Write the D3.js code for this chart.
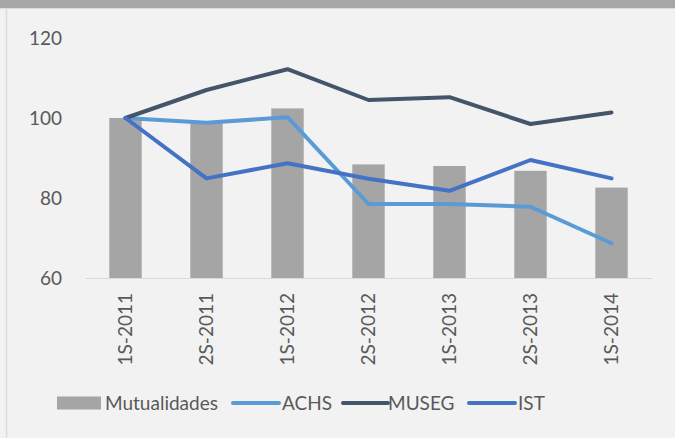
<!DOCTYPE html>
<html>
<head>
<meta charset="utf-8">
<script src="https://cdn.jsdelivr.net/npm/d3@7"></script>
<style>
  html, body { margin: 0; padding: 0; background: #f2f2f2; }
  svg { display: block; }
  text { font-family: Lato, "Open Sans", sans-serif; fill: #595959; }
</style>
</head>
<body>
<svg id="chart" width="675" height="438"></svg>
<script>
const categories = ["1S-2011", "2S-2011", "1S-2012", "2S-2012", "1S-2013", "2S-2013", "1S-2014"];
const mutualidades = [100, 98.7, 102.4, 88.4, 88.0, 86.8, 82.6];
const achs  = [100, 98.8, 100.2, 78.5, 78.5, 77.8, 68.7];
const museg = [100, 107.0, 112.2, 104.5, 105.2, 98.5, 101.4];
const ist   = [100, 84.9, 88.7, 84.8, 81.8, 89.5, 84.9];
const yTicks = [60, 80, 100, 120];

const lineSeries = [
  { name: "ACHS", values: achs, color: "#5b9bd5" },
  { name: "MUSEG", values: museg, color: "#44546a" },
  { name: "IST", values: ist, color: "#4472c4" }
];

const svg = d3.select("#chart");
const W = 675, H = 438;
const FS = 19;

// background panel
svg.append("rect").attr("x", 0).attr("y", 0).attr("width", W).attr("height", H).attr("fill", "#f2f2f2");
svg.append("rect").attr("x", 0).attr("y", 0).attr("width", W).attr("height", 8).attr("fill", "#a6a6a6");
svg.append("line").attr("x1", 0).attr("x2", W).attr("y1", 8.5).attr("y2", 8.5).attr("stroke", "#dcdcdc");
svg.append("line").attr("x1", 6.5).attr("x2", 6.5).attr("y1", 9).attr("y2", H).attr("stroke", "#dcdcdc").attr("stroke-width", 1.5);

const x = d3.scaleBand().domain(categories).range([85, 652]).paddingInner(0).paddingOuter(0);
const y = d3.scaleLinear().domain([60, 120]).range([278, 38]);

// y axis labels
const yAxis = d3.axisLeft(y).tickValues(yTicks).tickSize(0).tickPadding(0);
const gy = svg.append("g").attr("transform", "translate(62,0)").call(yAxis);
gy.select(".domain").remove();
gy.selectAll("text").attr("font-size", FS).attr("fill", "#595959")
  .style("font-family", "Lato, 'Open Sans', sans-serif");

// bars
const barW = x.bandwidth() * 0.4;
svg.append("g").selectAll("rect").data(mutualidades).join("rect")
  .attr("x", (d, i) => x(categories[i]) + x.bandwidth() / 2 - barW / 2)
  .attr("y", d => y(d))
  .attr("width", barW)
  .attr("height", d => y(60) - y(d))
  .attr("fill", "#a5a5a5");

// x axis
const xAxis = d3.axisBottom(x).tickSize(0).tickPadding(0);
const gx = svg.append("g").attr("transform", `translate(0,${y(60)})`).call(xAxis);
gx.select(".domain").attr("stroke", "#d9d9d9").attr("stroke-width", 1.2);
gx.selectAll("text")
  .attr("font-size", FS)
  .attr("fill", "#595959")
  .style("font-family", "Lato, 'Open Sans', sans-serif")
  .attr("text-anchor", "end")
  .attr("dy", null)
  .attr("transform", "translate(6,15) rotate(-90)")
  .attr("x", 0).attr("y", 0);

// lines
const line = d3.line()
  .x((d, i) => x(categories[i]) + x.bandwidth() / 2)
  .y(d => y(d));
svg.append("g").selectAll("path").data(lineSeries).join("path")
  .attr("d", s => line(s.values))
  .attr("fill", "none")
  .attr("stroke", s => s.color)
  .attr("stroke-width", 4)
  .attr("stroke-linejoin", "round")
  .attr("stroke-linecap", "round");

// legend
const lg = svg.append("g");
const ly = 403;
lg.append("rect").attr("x", 57).attr("y", ly - 6.5).attr("width", 44).attr("height", 13).attr("fill", "#a5a5a5");
lg.append("text").attr("x", 105).attr("y", ly).attr("dy", "0.35em").attr("font-size", FS).text("Mutualidades");
const legendLines = [
  { s: lineSeries[0], x1: 233, x2: 279, tx: 282 },
  { s: lineSeries[1], x1: 343, x2: 388, tx: 388 },
  { s: lineSeries[2], x1: 469, x2: 515, tx: 518 }
];
legendLines.forEach(l => {
  lg.append("line").attr("x1", l.x1).attr("x2", l.x2).attr("y1", ly).attr("y2", ly)
    .attr("stroke", l.s.color).attr("stroke-width", 4).attr("stroke-linecap", "round");
  lg.append("text").attr("x", l.tx).attr("y", ly).attr("dy", "0.35em").attr("font-size", FS).text(l.s.name);
});
</script>
</body>
</html>
